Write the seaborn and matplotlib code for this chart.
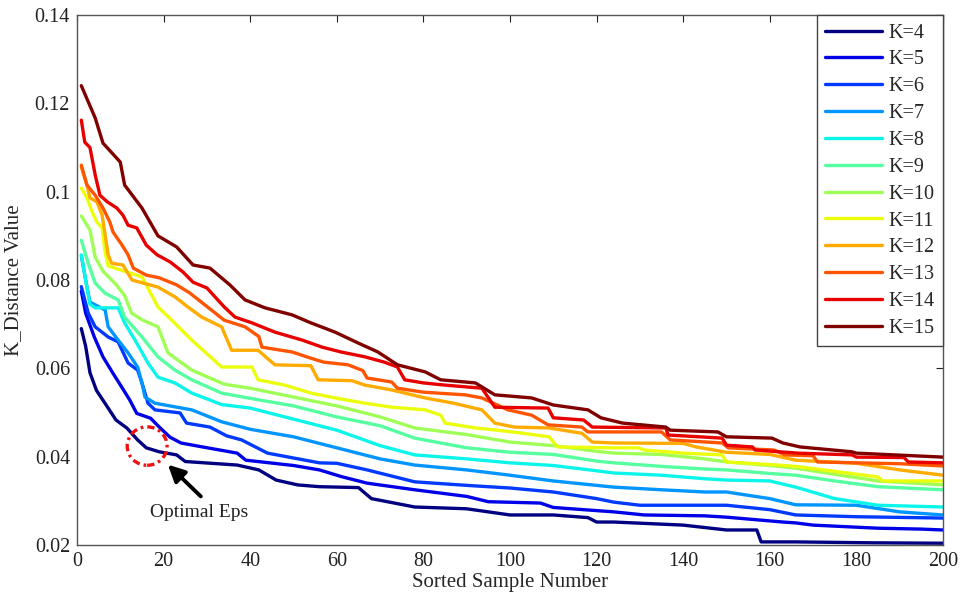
import numpy as np
import pandas as pd
import matplotlib
matplotlib.use("Agg")
import matplotlib.pyplot as plt
from matplotlib.patches import Ellipse
from matplotlib.ticker import FuncFormatter
import seaborn as sns

# Sorted k-distance curves, one per neighbourhood size K (vertices of each staircase)
x_k4 = [1, 2, 3, 4.5, 7, 9, 11.5, 14, 16, 19, 23, 25, 37, 42, 46, 51, 56, 65, 68, 78, 90, 100, 110, 118, 120, 124, 140, 150, 157, 158, 166, 183, 200]
y_k4 = [0.069, 0.065, 0.059, 0.055, 0.0513, 0.0483, 0.0465, 0.0438, 0.042, 0.0411, 0.0404, 0.0389, 0.0381, 0.037, 0.0347, 0.0336, 0.0332, 0.033, 0.0305, 0.0286, 0.0282, 0.0268, 0.0268, 0.0262, 0.0252, 0.0252, 0.0245, 0.0234, 0.0234, 0.0207, 0.0207, 0.0205, 0.0204]

x_k5 = [1, 2, 4, 6, 8.3, 10.3, 12.2, 13.8, 17, 19, 21.5, 24, 29, 37, 39, 50, 56, 61, 67, 78, 90, 95, 107, 110, 124, 131, 145, 150, 163, 166, 170, 185, 195, 200]
y_k5 = [0.0775, 0.0725, 0.0671, 0.0626, 0.0589, 0.0558, 0.0528, 0.0498, 0.0487, 0.0467, 0.0444, 0.0431, 0.0422, 0.0408, 0.0392, 0.038, 0.037, 0.0355, 0.034, 0.0325, 0.031, 0.0298, 0.0295, 0.0285, 0.0275, 0.0268, 0.0266, 0.0263, 0.0252, 0.025, 0.0245, 0.0238, 0.0236, 0.0234]

x_k6 = [1, 2.6, 4.2, 7.2, 9.5, 11.8, 14, 15, 16.4, 18, 23.8, 25.3, 30.7, 34.6, 38, 44, 56, 60, 67, 78, 90, 100, 110, 120, 124, 130, 150, 160, 166, 180, 200]
y_k6 = [0.0785, 0.0725, 0.0694, 0.0671, 0.066, 0.0612, 0.0596, 0.0567, 0.0521, 0.0506, 0.0499, 0.0476, 0.0467, 0.0447, 0.0438, 0.0408, 0.0386, 0.0385, 0.037, 0.0343, 0.0335, 0.0329, 0.032, 0.0305, 0.0297, 0.029, 0.029, 0.028, 0.0268, 0.0264, 0.0261]

x_k7 = [1, 2.3, 3, 6.5, 7.2, 9.5, 11.8, 14, 15, 15.7, 18, 26.5, 33.4, 40, 50, 60, 70, 78, 90, 100, 110, 120, 124, 135, 145, 150, 160, 166, 180, 190, 200]
y_k7 = [0.0855, 0.0784, 0.075, 0.0732, 0.0694, 0.0664, 0.0635, 0.0603, 0.0567, 0.0535, 0.0521, 0.0506, 0.0479, 0.0462, 0.0445, 0.042, 0.0395, 0.0381, 0.037, 0.0358, 0.0345, 0.0335, 0.0331, 0.0325, 0.032, 0.032, 0.0305, 0.0291, 0.029, 0.0275, 0.0268]

x_k8 = [1, 2, 3, 4.2, 9.5, 11, 13.4, 16.4, 18.7, 22.6, 26.5, 33.4, 40, 50, 60, 70, 78, 90, 100, 110, 120, 124, 135, 145, 150, 160, 166, 175, 185, 200]
y_k8 = [0.0857, 0.080, 0.0745, 0.0737, 0.0737, 0.0703, 0.0664, 0.0612, 0.058, 0.0567, 0.0544, 0.0518, 0.051, 0.0485, 0.046, 0.0425, 0.0404, 0.0395, 0.0386, 0.038, 0.0368, 0.0363, 0.0358, 0.035, 0.0347, 0.0345, 0.0331, 0.0305, 0.029, 0.0286]

x_k9 = [1, 2.6, 4.2, 6.5, 9.5, 11, 15, 18.7, 22.6, 26.5, 33.4, 40, 50, 60, 70, 78, 90, 100, 110, 120, 124, 135, 145, 150, 160, 166, 175, 185, 200]
y_k9 = [0.089, 0.0838, 0.0793, 0.077, 0.0755, 0.0716, 0.0671, 0.0626, 0.0596, 0.0574, 0.0544, 0.0532, 0.0515, 0.049, 0.047, 0.0442, 0.042, 0.041, 0.0405, 0.039, 0.0386, 0.0378, 0.0372, 0.037, 0.0362, 0.0358, 0.0345, 0.0332, 0.0325]

x_k10 = [1, 3, 4.2, 6, 9, 11, 12.6, 15, 18.7, 21, 26.5, 34, 40, 50, 60, 70, 78, 90, 100, 110, 120, 124, 135, 145, 150, 160, 166, 175, 185, 200]
y_k10 = [0.0945, 0.0913, 0.0852, 0.082, 0.079, 0.0765, 0.0725, 0.071, 0.0694, 0.0635, 0.0596, 0.0564, 0.0555, 0.0535, 0.0515, 0.049, 0.0465, 0.045, 0.0433, 0.0425, 0.0412, 0.0408, 0.0405, 0.0395, 0.0388, 0.038, 0.0374, 0.036, 0.0345, 0.0336]

x_k11 = [1, 2.3, 3.5, 4.6, 5.8, 6.5, 7.2, 15, 18.7, 22.6, 26.5, 33.4, 40.4, 41.8, 48, 54, 59.6, 66.5, 72.7, 80.4, 84, 85, 92, 97, 103, 109, 111, 124, 129.6, 131, 140, 149, 150, 162, 166, 185, 186, 200]
y_k11 = [0.1008, 0.0986, 0.0954, 0.0931, 0.0918, 0.0863, 0.0832, 0.0807, 0.0739, 0.0702, 0.0664, 0.0603, 0.0603, 0.0574, 0.0562, 0.0544, 0.0533, 0.0521, 0.0512, 0.0506, 0.0494, 0.0476, 0.0465, 0.046, 0.0453, 0.0445, 0.0422, 0.042, 0.042, 0.0415, 0.0408, 0.0404, 0.0388, 0.0381, 0.0378, 0.0354, 0.0345, 0.0345]

x_k12 = [1, 2.3, 3, 4.6, 5.8, 6.5, 7.2, 8, 10.6, 12.7, 18.7, 22.6, 25.6, 28.8, 33.4, 35.7, 41.8, 45.7, 54, 55.7, 63.5, 66.5, 72.7, 80.4, 87, 93.5, 96.5, 101, 109, 116.6, 119, 124, 140, 143, 150, 160, 166, 180, 190, 200]
y_k12 = [0.1056, 0.1015, 0.0986, 0.0977, 0.0947, 0.0902, 0.0857, 0.0838, 0.0834, 0.080, 0.0784, 0.0762, 0.0739, 0.0716, 0.0694, 0.0641, 0.0641, 0.0608, 0.0606, 0.0574, 0.0572, 0.0562, 0.0551, 0.0533, 0.0521, 0.0506, 0.0476, 0.0467, 0.0465, 0.0453, 0.0433, 0.0431, 0.043, 0.0422, 0.041, 0.0405, 0.0392, 0.0385, 0.037, 0.0358]

x_k13 = [1, 2.3, 4.2, 6, 7.6, 8.3, 10.4, 11.8, 13, 16, 19, 23, 26, 30, 34, 38.8, 42, 42.7, 49.7, 54, 57, 62.6, 66, 67, 72.7, 74, 80, 89.6, 93.5, 99.5, 105, 108.8, 116.6, 118, 135, 137, 149, 150.4, 161, 163.5, 170, 171, 190, 200]
y_k13 = [0.106, 0.1015, 0.0992, 0.0963, 0.0931, 0.0909, 0.0879, 0.0857, 0.0827, 0.0811, 0.0805, 0.0789, 0.0771, 0.074, 0.0709, 0.0694, 0.0672, 0.0648, 0.0637, 0.0623, 0.0614, 0.0608, 0.0595, 0.0578, 0.0569, 0.0555, 0.0546, 0.054, 0.0533, 0.0506, 0.0494, 0.0472, 0.0467, 0.0456, 0.0456, 0.0438, 0.0431, 0.042, 0.0415, 0.0404, 0.0402, 0.0388, 0.0384, 0.0379]

x_k14 = [1, 1.8, 3, 4.2, 5.3, 7, 9.2, 10.6, 11.8, 13.8, 16, 18.5, 21.5, 24.5, 26.8, 30, 34, 36.5, 40.4, 45.7, 52, 56.6, 61, 66.5, 71, 74, 75.7, 80, 85, 93.5, 96.5, 108.8, 110, 117, 119, 136, 136.5, 149, 150, 156, 156.6, 166.5, 179, 180, 191, 192, 200]
y_k14 = [0.1162, 0.1112, 0.110, 0.1038, 0.0992, 0.0977, 0.0963, 0.0947, 0.0924, 0.0918, 0.0879, 0.0857, 0.0841, 0.0818, 0.0795, 0.0782, 0.0739, 0.0716, 0.0703, 0.0682, 0.0664, 0.0648, 0.0637, 0.0626, 0.0614, 0.0603, 0.0574, 0.0567, 0.0562, 0.0555, 0.0512, 0.051, 0.0488, 0.0483, 0.0467, 0.0465, 0.0449, 0.0442, 0.0426, 0.0422, 0.0415, 0.0408, 0.0404, 0.0399, 0.0398, 0.0388, 0.0386]

x_k15 = [1, 4.2, 6, 10, 11, 15, 18.7, 23, 26.8, 30.7, 35.3, 38.8, 43.4, 49.7, 54, 59.6, 65, 69.5, 74, 80.4, 84, 92, 96.5, 105, 110, 118, 121, 126, 136, 137, 148, 150, 160.5, 163, 167, 179, 180, 200]
y_k15 = [0.124, 0.1167, 0.111, 0.1067, 0.1015, 0.0963, 0.090, 0.0875, 0.0834, 0.0827, 0.0789, 0.0755, 0.0737, 0.0721, 0.0703, 0.0682, 0.0657, 0.0637, 0.0608, 0.0592, 0.0574, 0.0567, 0.054, 0.0533, 0.0517, 0.0506, 0.0488, 0.0476, 0.0467, 0.046, 0.0456, 0.0445, 0.0442, 0.0431, 0.0422, 0.0411, 0.0408, 0.0399]

k_values = [4, 5, 6, 7, 8, 9, 10, 11, 12, 13, 14, 15]
series_x = [x_k4, x_k5, x_k6, x_k7, x_k8, x_k9, x_k10, x_k11, x_k12, x_k13, x_k14, x_k15]
series_y = [y_k4, y_k5, y_k6, y_k7, y_k8, y_k9, y_k10, y_k11, y_k12, y_k13, y_k14, y_k15]

x_ticks = [0, 20, 40, 60, 80, 100, 120, 140, 160, 180, 200]
y_ticks = [0.02, 0.04, 0.06, 0.08, 0.10, 0.12, 0.14]

# Annotation of the chosen radius
eps_center = (16.2, 0.0424)
arrow_tip = (21.0, 0.0382)
arrow_tail = (28.6, 0.0310)
eps_text_pos = (28.2, 0.0274)

frames = []
for k, xs, ys in zip(k_values, series_x, series_y):
    frames.append(pd.DataFrame({"Sorted Sample Number": xs,
                                "K_Distance Value": ys,
                                "K": f"K={k}"}))
df = pd.concat(frames, ignore_index=True)

sns.set_style("white")
plt.rcParams["font.family"] = ["Liberation Serif", "DejaVu Serif"]

colors = plt.get_cmap("jet")(np.linspace(0, 1, len(k_values)))
palette = {f"K={k}": colors[i] for i, k in enumerate(k_values)}

fig = plt.figure(figsize=(9.6, 5.94), dpi=100)
ax = fig.add_axes([0.0802, 0.0825, 0.9021, 0.8922])

sns.lineplot(data=df, x="Sorted Sample Number", y="K_Distance Value", hue="K",
             palette=palette, estimator=None, sort=True, linewidth=2.4,
             ax=ax, legend=True)

ax.set_xlim(0, 200)
ax.set_ylim(0.02, 0.14)
ax.set_xticks(x_ticks)
ax.set_yticks(y_ticks)
ax.yaxis.set_major_formatter(FuncFormatter(lambda v, p: f"{v:g}"))
ax.tick_params(direction="in", length=5, width=0.8, top=True, right=True,
               labelsize=14.5, colors="#222222", pad=5)
for s in ax.spines.values():
    s.set_color("#555555")
    s.set_linewidth(1.0)
ax.set_xlabel("Sorted Sample Number", fontsize=15, labelpad=1.5)
ax.set_ylabel("K_Distance Value", fontsize=15, labelpad=8)

leg = ax.legend(loc="upper right", borderaxespad=0, fontsize=14.5,
                frameon=True, fancybox=False, framealpha=1,
                edgecolor="#444444", handlelength=2.85, handletextpad=0.3,
                labelspacing=0.385, borderpad=0.42)
leg.get_frame().set_linewidth(1.0)
for line in leg.get_lines():
    line.set_linewidth(2.4)

# Dash-dotted ring around the knee and an arrow with its caption
ring = Ellipse(eps_center, width=9.2, height=0.0087, fill=False,
               edgecolor="#ee1111", linewidth=2.4,
               linestyle=(0, (2.2, 1.2, 0.8, 1.2)), zorder=5)
ax.add_patch(ring)
ax.annotate("", xy=arrow_tip, xytext=arrow_tail,
            arrowprops=dict(arrowstyle="-|>,head_length=1.0,head_width=0.5",
                            color="black", lw=2.8, shrinkA=0, shrinkB=0))
ax.text(eps_text_pos[0], eps_text_pos[1], "Optimal Eps", ha="center",
        va="center", fontsize=14, color="#222222")

fig.savefig("out.png", dpi=100)
